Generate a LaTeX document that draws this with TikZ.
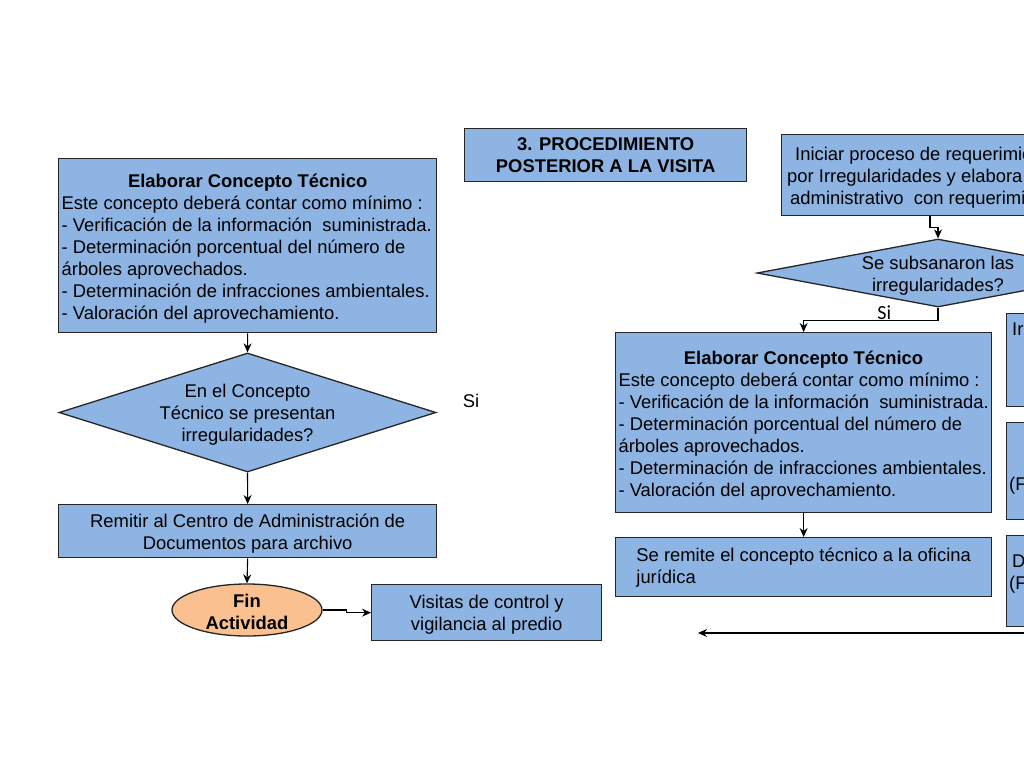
\documentclass[tikz,border=0pt]{standalone}
\usepackage{fontspec}
\setmainfont{Liberation Sans}
\newfontfamily\calibrilike{Carlito}
\usetikzlibrary{shapes.geometric,arrows.meta,calc}
\definecolor{boxblue}{RGB}{141,180,226}
\definecolor{finorange}{RGB}{250,192,143}
\definecolor{edgecol}{RGB}{38,38,38}
\begin{document}
\begin{tikzpicture}[x=1pt,y=-1pt,
  every node/.style={font=\fontsize{18.4}{22}\selectfont},
  box/.style={draw=edgecol, line width=1.3pt, fill=boxblue, rectangle, anchor=north west, inner sep=0pt},
  dia/.style={draw=edgecol, line width=1.3pt, fill=boxblue, diamond, inner sep=0pt},
  conn/.style={draw=black, line width=1.1pt},
  arr/.style={conn, -{Stealth[length=9pt,width=8pt]}},
  txt/.style={inner sep=0pt}
]
\useasboundingbox (0,0) rectangle (1024,768);
\clip (0,0) rectangle (1024,768);
\fill[white] (0,0) rectangle (1024,768);

% left column
\node[box, minimum width=378pt, minimum height=174pt, align=left] (c1) at (58,158)
  {\makebox[372pt]{\rule{0pt}{20pt}\textbf{Elaborar Concepto Técnico}}\\
   Este concepto deberá contar como mínimo :\\
   - Verificación de la información\ \ suministrada.\\
   - Determinación porcentual del número de\\
   árboles aprovechados.\\
   - Determinación de infracciones ambientales.\\
   - Valoración del aprovechamiento.};
\node[dia, minimum width=377pt, minimum height=119pt] (q1) at (247.5,412.5) {};
\node[txt, align=center] (q1t) at ($(q1)+(0,2)$) {En el Concepto\\Técnico se presentan\\irregularidades?};
\node[txt] (si1) at (471,401) {Si};
\node[box, minimum width=378pt, minimum height=53pt, align=center] (rem) at (58,504)
  {\rule{0pt}{18pt}Remitir al Centro de Administración de\\Documentos para archivo};
\node[ellipse, draw=edgecol, line width=1.3pt, fill=finorange, minimum width=150pt, minimum height=52pt, inner sep=0pt] (fin) at (247,610) {};
\node[txt, align=center, font=\fontsize{18.4}{22}\selectfont\bfseries] (fint) at ($(fin)+(0,2)$) {Fin\\Actividad};
\node[box, minimum width=230pt, minimum height=56pt, align=center] (vis) at (371,584)
  {\rule{0pt}{18pt}Visitas de control y\\vigilancia al predio};

% title
\node[box, minimum width=282pt, minimum height=53pt, align=center, font=\fontsize{18.4}{22}\selectfont\bfseries] (tit) at (464,128)
  {3. PROCEDIMIENTO\\POSTERIOR A LA VISITA};

% right column
\node[box, minimum width=340pt, minimum height=81pt] (ini) at (781,134) {};
\node[txt, anchor=base west] (ini1) at (795,160) {Iniciar proceso de requerimie};
\node[txt, anchor=base west] (ini2) at (787,182) {por Irregularidades y elabora};
\node[txt, anchor=base west] (ini3) at (790,204) {administrativo\ \ con requerimi};
\node[dia, minimum width=362pt, minimum height=68pt] (q2) at (938,273) {};
\node[txt, align=center] (q2t) at (938,276) {Se subsanaron las\\irregularidades?};
\node[box, minimum width=376pt, minimum height=180pt, align=left] (c2) at (615,332)
  {\makebox[370pt]{\rule{0pt}{20pt}\textbf{Elaborar Concepto Técnico}}\\
   Este concepto deberá contar como mínimo :\\
   - Verificación de la información\ \ suministrada.\\
   - Determinación porcentual del número de\\
   árboles aprovechados.\\
   - Determinación de infracciones ambientales.\\
   - Valoración del aprovechamiento.};
\node[box, minimum width=376pt, minimum height=59pt, align=left] (rj) at (615,537)
  {Se remite el concepto técnico a la oficina\\jurídica};

\node[box, minimum width=100pt, minimum height=93pt] (r1) at (1006,313) {};
\node[box, minimum width=100pt, minimum height=97pt] (r2) at (1006,422) {};
\node[box, minimum width=100pt, minimum height=91pt] (r3) at (1006,535) {};
\node[txt, anchor=base west] (r1t) at (1012,335) {Ir};
\node[txt, anchor=base west] (r2t) at (1009,490) {(F};
\node[txt, anchor=base west] (r3t) at (1012,567) {D};
\node[txt, anchor=base west] (r3u) at (1009,589) {(F};

% connectors
\draw[arr] (c1.south) -- (q1.north);
\draw[arr] (q1.south) -- (rem.north);
\draw[arr] (rem.south) -- (fin.north);
\draw[arr] (fin.east) -- ++(24,0) |- (vis.west);
\coordinate (iniout) at ($(ini.south west)+(149,0)$);
\draw[arr] (iniout) -- ++(0,11) -| (q2.north);
\draw[arr] (q2.south) -- ++(0,13) -| (c2.north)
  node[pos=0.2, above=-1pt, inner sep=1pt, font=\calibrilike\fontsize{20}{22}\selectfont] (si2) {Si};
\draw[arr] (c2.south) -- (rj.north);
\coordinate (lfrom) at (1040,633);
\coordinate (lto) at (698,633);
\draw[arr] (lfrom) -- (lto);
\end{tikzpicture}
\end{document}
